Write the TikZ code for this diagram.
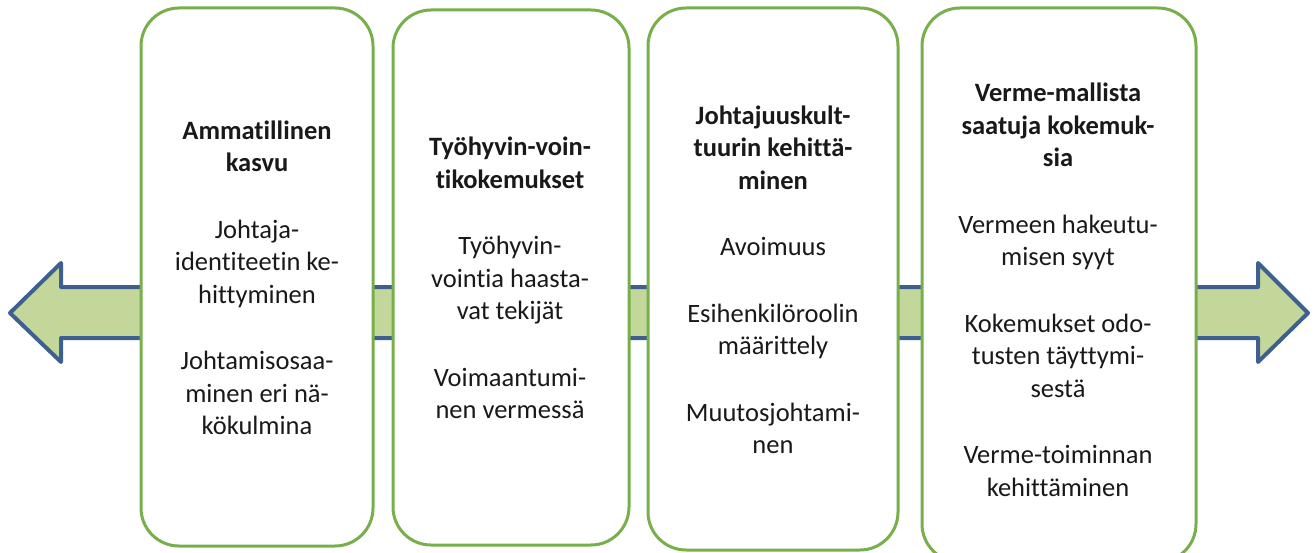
\documentclass[tikz,border=0pt]{standalone}
\usepackage{fontspec}
\setmainfont[Ligatures=NoCommon]{Carlito}
\usetikzlibrary{positioning}
\definecolor{boxgreen}{HTML}{77AF4B}
\definecolor{arrowblue}{HTML}{3D6090}
\definecolor{arrowfill}{HTML}{C4D79B}

\begin{document}
\begin{tikzpicture}[x=1pt, y=-1pt,
			box/.style={draw=boxgreen, line width=3pt, fill=white, rounded corners=38pt, inner sep=0pt},
			txt/.style={align=center, font=\fontsize{26.5}{32.5}\selectfont, text=black!90} ]
			\useasboundingbox (0,0) rectangle (1316,553);
			
			%Seta de fundo:
			\coordinate (L) at (10,313);
			\coordinate (R) at (1308,313);
			\draw[arrowblue, fill=arrowfill, line width=4pt, line join=round]
			(L) -- (61,263) -- (61,287) -- (1258,287) -- (1258,263) -- (R)
			-- (1258,362) -- (1258,338) -- (61,338) -- (61,362) -- cycle;
			
			%Caixas:
			\node[box, minimum width=232pt, minimum height=538pt] (b1) at (257,277)   {};
			\node[box, minimum width=236pt, minimum height=535pt] (b2) at (511,277.5) {};
			\node[box, minimum width=250pt, minimum height=542pt] (b3) at (773,279)   {};
			\node[box, minimum width=274pt, minimum height=554pt] (b4) at (1059,285)  {};
			
			%Textos:
			\node[txt] (t1) at (257,278) {\textbf{Ammatillinen}\\\textbf{kasvu}\\[34pt]
				Johtaja-\\identiteetin ke-\\hittyminen\\[34pt]
				Johtamisosaa-\\minen eri nä-\\kökulmina};
			\node[txt] (t2) at (510,278) {\textbf{Työhyvin-voin-}\\\textbf{tikokemukset}\\[34pt]
				Työhyvin-\\vointia haasta-\\vat tekijät\\[34pt]
				Voimaantumi-\\nen vermessä};
			\node[txt] (t3) at (773,280) {\textbf{Johtajuuskult-}\\\textbf{tuurin kehittä-}\\\textbf{minen}\\[34pt]
				Avoimuus\\[34pt]
				Esihenkilöroolin\\määrittely\\[34pt]
				Muutosjohtami-\\nen};
			\node[txt] (t4) at (1058,290) {\textbf{Verme-mallista}\\\textbf{saatuja kokemuk-}\\\textbf{sia}\\[34pt]
				Vermeen hakeutu-\\misen syyt\\[34pt]
				Kokemukset odo-\\tusten täyttymi-\\sestä\\[34pt]
				Verme-toiminnan\\kehittäminen};
		\end{tikzpicture}
\end{document}
